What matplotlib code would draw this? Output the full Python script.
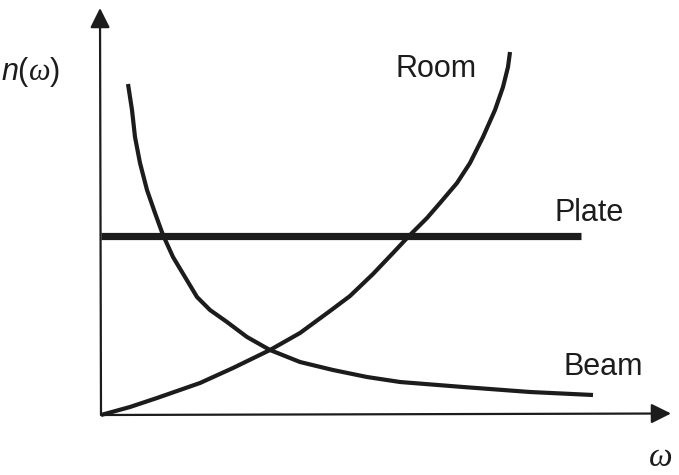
import matplotlib

matplotlib.use("Agg")
import matplotlib.pyplot as plt

plt.rcParams["font.family"] = ["Liberation Sans", "DejaVu Sans"]
plt.rcParams["mathtext.fontset"] = "custom"
plt.rcParams["mathtext.rm"] = "Liberation Sans"
plt.rcParams["mathtext.it"] = "Liberation Sans:italic"
plt.rcParams["mathtext.sf"] = "Liberation Serif:italic"

INK = "#1c1c1c"

# modal density sketch (arbitrary units)
room_w = [0, 0.29, 0.56, 0.99, 1.32, 1.69, 1.99, 2.29, 2.49, 2.72, 2.92, 3.07,
          3.26, 3.39, 3.56, 3.69, 3.82, 3.94, 4.02, 4.07, 4.09]
room_n = [0, 0.08, 0.17, 0.32, 0.47, 0.65, 0.82, 1.04, 1.19, 1.41, 1.62, 1.78,
          1.97, 2.12, 2.32, 2.52, 2.78, 3.05, 3.28, 3.48, 3.63]

beam_w = [0.27, 0.31, 0.34, 0.39, 0.46, 0.54, 0.62, 0.72, 0.84, 0.96, 1.09,
          1.26, 1.46, 1.69, 1.99, 2.32, 2.66, 2.99, 3.62, 4.29, 4.92]
beam_n = [3.31, 3.05, 2.78, 2.52, 2.25, 2.02, 1.80, 1.58, 1.38, 1.18, 1.05,
          0.93, 0.78, 0.65, 0.53, 0.45, 0.38, 0.33, 0.28, 0.23, 0.20]

plate_w = [0, 4.80]
plate_n = [1.79, 1.79]

fig = plt.figure(figsize=(6.79, 4.75), dpi=100)
ax = fig.add_axes([0, 0, 1, 1])
ax.set_xlim(-1.01, 5.78)
ax.set_ylim(-0.60, 4.15)
ax.axis("off")

# axes with arrow heads
arrow = dict(arrowstyle="-|>,head_length=0.6,head_width=0.3", color=INK,
             lw=1.6, mutation_scale=20, shrinkA=0, shrinkB=0)
ax.annotate("", xy=(5.70, 0.015), xytext=(0, 0), arrowprops=arrow)
ax.annotate("", xy=(-0.01, 4.07), xytext=(0, 0), arrowprops=arrow)

line_kw = dict(color=INK, solid_capstyle="butt", solid_joinstyle="round")
ax.plot(room_w, room_n, lw=3.0, **line_kw)
ax.plot(beam_w, beam_n, lw=3.0, **line_kw)
ax.plot(plate_w, plate_n, lw=5.2, **line_kw)

ax.text(3.35, 3.46, "Room", fontsize=22, ha="center", va="center", color=INK)
ax.text(4.88, 2.02, "Plate", fontsize=22, ha="center", va="center", color=INK)
ax.text(5.02, 0.48, "Beam", fontsize=22, ha="center", va="center", color=INK)

ax.text(5.60, -0.585, "ω", fontsize=24, family="Liberation Serif", style="italic",
        ha="center", va="bottom", color=INK)
ax.text(-0.70, 3.43, r"$n\mathrm{(}\mathsf{\omega}\mathrm{)}$", fontsize=22,
        ha="center", va="center", color=INK)

fig.savefig("out.png", dpi=100)
